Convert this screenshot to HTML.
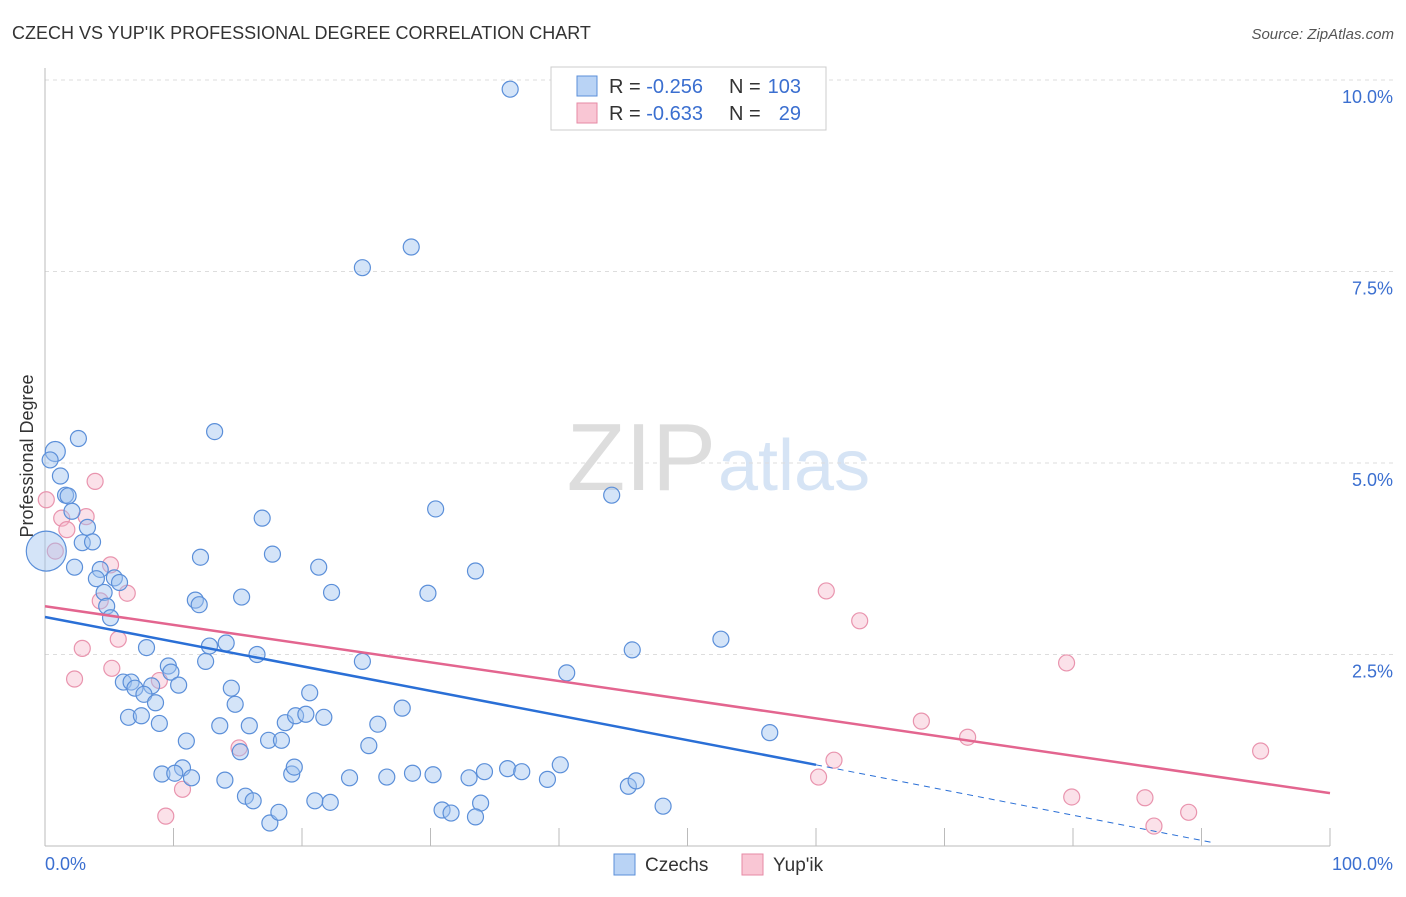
<!DOCTYPE html>
<html><head><meta charset="utf-8"><style>
body{margin:0;background:#fff;font-family:"Liberation Sans",sans-serif}
svg text{font-family:"Liberation Sans",sans-serif}
</style></head><body>
<svg width="1406" height="892" xmlns="http://www.w3.org/2000/svg">
<text x="12" y="39" font-size="18" fill="#333">CZECH VS YUP'IK PROFESSIONAL DEGREE CORRELATION CHART</text>
<text x="1394" y="39" font-size="15" fill="#555" text-anchor="end" font-style="italic">Source: ZipAtlas.com</text>
<text x="33" y="456" font-size="18" fill="#333" text-anchor="middle" transform="rotate(-90 33 456)">Professional Degree</text>
<text x="716" y="490" font-size="96" fill="#ddd" text-anchor="end" font-family="Liberation Serif">ZIP</text>
<text x="718" y="490" font-size="72" fill="#d6e4f5">atlas</text>
<g id="grid"></g>
<g id="marks"></g>
<g>
<rect x="551" y="67" width="275" height="63" fill="#fff" stroke="#ccc"/>
<rect x="577" y="76" width="20" height="20" fill="#b9d3f5" stroke="#5b8fd9"/>
<rect x="577" y="103" width="20" height="20" fill="#f9c6d4" stroke="#e68aa5"/>
<text x="609" y="93" font-size="20" fill="#333">R = <tspan fill="#3b6fd0">-0.256</tspan></text>
<text x="729" y="93" font-size="20" fill="#333">N =</text>
<text x="801" y="93" font-size="20" fill="#3b6fd0" text-anchor="end">103</text>
<text x="609" y="120" font-size="20" fill="#333">R = <tspan fill="#3b6fd0">-0.633</tspan></text>
<text x="729" y="120" font-size="20" fill="#333">N =</text>
<text x="801" y="120" font-size="20" fill="#3b6fd0" text-anchor="end">29</text>
</g>
<g>
<rect x="614" y="854" width="21" height="21" fill="#b9d3f5" stroke="#5b8fd9"/>
<text x="645" y="871" font-size="19" fill="#333">Czechs</text>
<rect x="742" y="854" width="21" height="21" fill="#f9c6d4" stroke="#e68aa5"/>
<text x="773" y="871" font-size="19" fill="#333">Yup'ik</text>
</g>
</svg>
<script>
const xTicks=[0,10,20,30,40,50,60,70,80,90,100];
const yTicks=[2.5,5,7.5,10];
const yTickLabels=["2.5%","5.0%","7.5%","10.0%"];
const czX=[36.2,28.5,24.7,13.2,2.6,0.8,0.4,1.2,1.6,1.8,16.9,2.1,3.3,44.1,30.4,2.9,3.7,12.1,17.7,2.3,4.3,5.4,4.0,5.8,21.3,33.5,11.7,12.0,15.3,22.3,29.8,4.6,4.8,5.1,12.8,14.1,7.9,16.5,12.5,24.7,45.7,52.6,40.6,9.6,9.8,6.1,6.7,7.0,8.3,10.4,14.5,7.7,8.6,14.8,20.6,27.8,6.5,7.5,8.9,13.6,15.9,18.7,19.5,20.3,21.7,25.9,11.0,17.4,18.4,25.2,56.4,15.2,10.7,9.1,10.1,11.4,19.2,19.4,14.0,23.7,26.6,28.6,30.2,33.0,34.2,36.0,37.1,39.1,40.1,45.4,46.0,15.6,16.2,17.5,18.2,21.0,22.2,30.9,31.6,33.9,33.5,48.1,0.1];
const czY=[9.88,7.82,7.55,5.41,5.32,5.15,5.04,4.83,4.58,4.57,4.28,4.37,4.16,4.58,4.40,3.96,3.97,3.77,3.81,3.64,3.61,3.50,3.49,3.44,3.64,3.59,3.21,3.15,3.25,3.31,3.30,3.31,3.13,2.98,2.61,2.65,2.59,2.50,2.41,2.41,2.56,2.70,2.26,2.35,2.27,2.14,2.14,2.06,2.09,2.10,2.06,1.98,1.87,1.85,2.00,1.80,1.68,1.70,1.60,1.57,1.57,1.61,1.70,1.72,1.68,1.59,1.37,1.38,1.38,1.31,1.48,1.23,1.02,0.94,0.95,0.89,0.94,1.03,0.86,0.89,0.90,0.95,0.93,0.89,0.97,1.01,0.97,0.87,1.06,0.78,0.85,0.65,0.59,0.30,0.44,0.59,0.57,0.47,0.43,0.56,0.38,0.52,3.85];
const czR=[8,8,8,8,8,10,8,8,8,8,8,8,8,8,8,8,8,8,8,8,8,8,8,8,8,8,8,8,8,8,8,8,8,8,8,8,8,8,8,8,8,8,8,8,8,8,8,8,8,8,8,8,8,8,8,8,8,8,8,8,8,8,8,8,8,8,8,8,8,8,8,8,8,8,8,8,8,8,8,8,8,8,8,8,8,8,8,8,8,8,8,8,8,8,8,8,8,8,8,8,8,8,20];
const ykX=[0.1,0.8,1.3,1.7,3.2,3.9,5.1,4.3,6.4,5.7,2.9,5.2,2.3,8.9,15.1,10.7,9.4,60.8,63.4,79.5,68.2,71.8,61.4,60.2,79.9,85.6,86.3,89.0,94.6];
const ykY=[4.52,3.85,4.28,4.13,4.30,4.76,3.67,3.20,3.30,2.70,2.58,2.32,2.18,2.16,1.28,0.74,0.39,3.33,2.94,2.39,1.63,1.42,1.12,0.90,0.64,0.63,0.26,0.44,1.24];
const blueLine=[[0,2.99],[60,1.06]], blueDash=[[60,1.06],[90.7,0.05]];
const pinkLine=[[0,3.13],[100,0.69]];
const X=v=>45+v*12.85, Y=v=>846-v*76.6;
const NS="http://www.w3.org/2000/svg";
function mk(t,a,p){const e=document.createElementNS(NS,t);for(const k in a)e.setAttribute(k,a[k]);p.appendChild(e);return e;}
const gridG=document.getElementById('grid'), marksG=document.getElementById('marks');
yTicks.forEach((t,i)=>{
 const l=mk('line',{x1:45,x2:1395,y1:Y(t),y2:Y(t),stroke:'#ddd','stroke-dasharray':'4,4'},gridG);
 
 
 const tx=mk('text',{x:1393,y:Y(t)+23,'font-size':18,fill:'#3b6fd0','text-anchor':'end'},gridG);
 tx.textContent=yTickLabels[i];
 
 
});
const ax=mk('line',{x1:45,x2:45,y1:68,y2:846,stroke:'#bbb'},gridG);


const bx=mk('line',{x1:45,x2:1330,y1:846,y2:846,stroke:'#bbb'},gridG);


xTicks.forEach(t=>{const l=mk('line',{x1:X(t),x2:X(t),y1:828,y2:846,stroke:'#bbb'},gridG);
 
 });
[[0,'0.0%','start',45],[100,'100.0%','end',1393]].forEach(d=>{const t=mk('text',{x:d[3],y:870,'font-size':18,fill:'#3b6fd0','text-anchor':d[2]},gridG);t.textContent=d[1];
 
 });
ykX.forEach((v,i)=>{const c=mk('circle',{cx:X(v),cy:Y(ykY[i]),r:8,fill:'rgba(246,180,200,0.4)',stroke:'#e994ae','stroke-width':1.2},marksG);
 
 });
czX.forEach((v,i)=>{const c=mk('circle',{cx:X(v),cy:Y(czY[i]),r:czR[i],fill:'rgba(160,195,240,0.45)',stroke:'#5b8fd9','stroke-width':1.2},marksG);
 
 });
const bl=mk('line',{x1:X(blueLine[0][0]),y1:Y(blueLine[0][1]),x2:X(blueLine[1][0]),y2:Y(blueLine[1][1]),stroke:'#2a6fd6','stroke-width':2.5},marksG);


const bd=mk('line',{x1:X(blueDash[0][0]),y1:Y(blueDash[0][1]),x2:X(blueDash[1][0]),y2:Y(blueDash[1][1]),stroke:'#2a6fd6','stroke-width':1,'stroke-dasharray':'6,5'},marksG);


const pl=mk('line',{x1:X(pinkLine[0][0]),y1:Y(pinkLine[0][1]),x2:X(pinkLine[1][0]),y2:Y(pinkLine[1][1]),stroke:'#e3658f','stroke-width':2.5},marksG);


</script>
</body></html>
